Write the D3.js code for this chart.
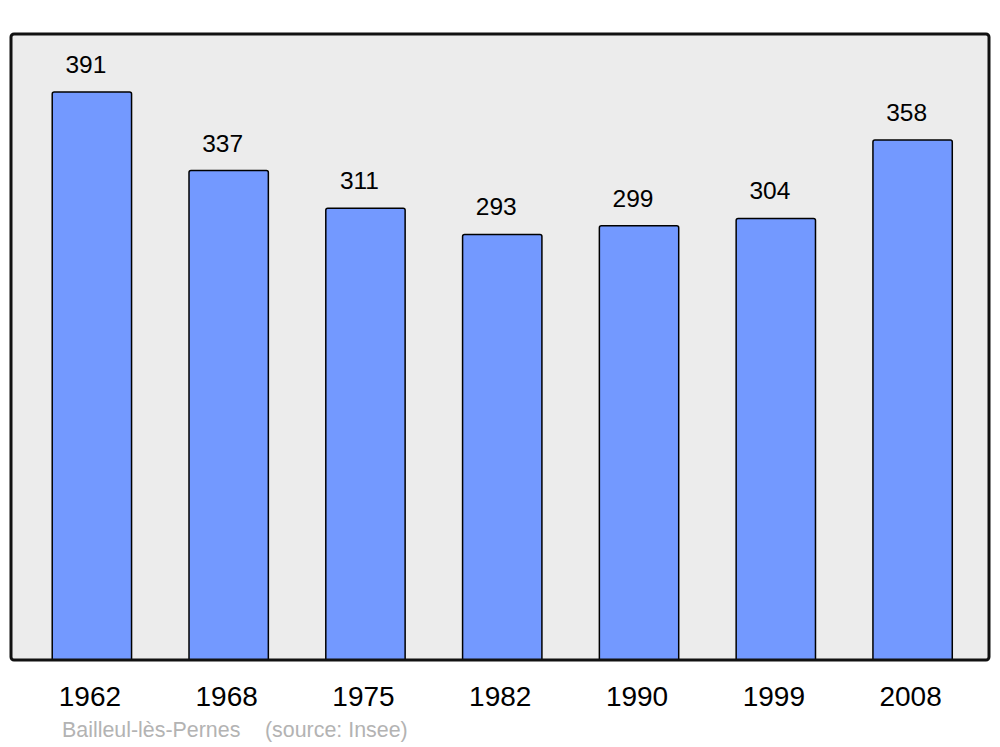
<!DOCTYPE html>
<html>
<head>
<meta charset="utf-8">
<script src="https://cdn.jsdelivr.net/npm/d3@7"></script>
<style>
  body { margin: 0; background: #fff; }
  text { font-family: "Liberation Sans", Arial, sans-serif; }
</style>
</head>
<body>
<div id="wrapper"></div>
<script>
const years = ["1962", "1968", "1975", "1982", "1990", "1999", "2008"]
const population = [391, 337, 311, 293, 299, 304, 358]
const place = "Bailleul-lès-Pernes"
const source = "(source: Insee)"

const dimensions = { width: 1000, height: 747 }
const frame = { left: 11, right: 989, top: 34, bottom: 660 }

const svg = d3.select("#wrapper")
  .append("svg")
    .attr("width", dimensions.width)
    .attr("height", dimensions.height)

// background frame
svg.append("rect")
    .attr("x", frame.left)
    .attr("y", frame.top)
    .attr("width", frame.right - frame.left)
    .attr("height", frame.bottom - frame.top)
    .attr("rx", 3)
    .attr("fill", "#ececec")

// scales
const xScale = d3.scaleBand()
  .domain(years)
  .range([23.5, 981])
  .paddingInner(0.42)
  .paddingOuter(0.21)

const yScale = d3.scaleLinear()
  .domain([0, 431])
  .range([frame.bottom, frame.top])

// bars with rounded top corners
const r = 2
const barPath = (d, i) => {
  const x0 = xScale(years[i]), x1 = x0 + xScale.bandwidth()
  const y0 = yScale(d), yb = yScale(0)
  return `M${x0},${yb} L${x0},${y0 + r} Q${x0},${y0} ${x0 + r},${y0}`
    + ` L${x1 - r},${y0} Q${x1},${y0} ${x1},${y0 + r} L${x1},${yb}`
}

svg.selectAll("path.bar")
    .data(population)
  .join("path")
    .attr("class", "bar")
    .attr("d", barPath)
    .attr("fill", "#7399ff")
    .attr("stroke", "#000")
    .attr("stroke-width", 1.5)

// value labels
svg.selectAll("text.value")
    .data(population)
  .join("text")
    .attr("class", "value")
    .attr("x", (d, i) => xScale(years[i]) + xScale.bandwidth() / 2 - 6)
    .attr("y", d => yScale(d) - 19)
    .attr("text-anchor", "middle")
    .attr("font-size", 24.5)
    .attr("fill", "#000")
    .text(d => d)

// frame border on top
svg.append("rect")
    .attr("x", frame.left)
    .attr("y", frame.top)
    .attr("width", frame.right - frame.left)
    .attr("height", frame.bottom - frame.top)
    .attr("rx", 3)
    .attr("fill", "none")
    .attr("stroke", "#111")
    .attr("stroke-width", 3)

// x axis labels
const xAxis = d3.axisBottom(xScale).tickSize(0).tickPadding(0)
const axisG = svg.append("g")
    .attr("transform", `translate(-2, 685)`)
    .call(xAxis)
axisG.select(".domain").remove()
axisG.selectAll("text")
    .attr("font-size", 28)
    .attr("fill", "#000")
    .attr("dy", "0.75em")

// caption
svg.append("text")
    .attr("x", 62)
    .attr("y", 737)
    .attr("font-size", 21.4)
    .attr("fill", "#b3b3b3")
    .text(place)
svg.append("text")
    .attr("x", 265)
    .attr("y", 737)
    .attr("font-size", 21.4)
    .attr("fill", "#b3b3b3")
    .text(source)
</script>
</body>
</html>
